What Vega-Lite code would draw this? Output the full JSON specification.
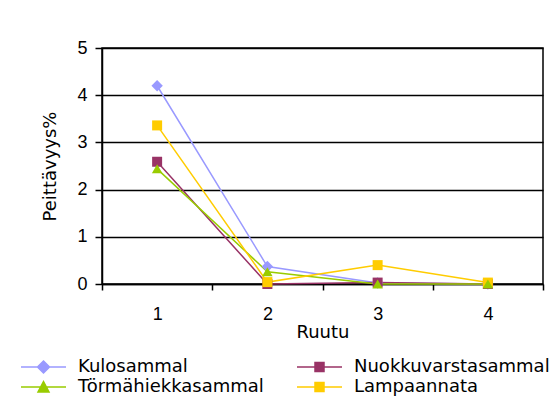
{
  "$schema": "https://vega.github.io/schema/vega-lite/v6.json",
  "width": 441,
  "height": 236,
  "autosize": {"type": "none"},
  "padding": {"left": 102, "top": 48, "right": 11, "bottom": 122},
  "background": "white",
  "config": {"view": {"stroke": "black", "strokeWidth": 1.5}, "font": "DejaVu Sans"},
  "data": {"values": [
    {"Laji": "Kulosammal", "Ruutu": 1, "Peittavyys": 4.2},
    {"Laji": "Kulosammal", "Ruutu": 2, "Peittavyys": 0.37},
    {"Laji": "Kulosammal", "Ruutu": 3, "Peittavyys": 0.02},
    {"Laji": "Kulosammal", "Ruutu": 4, "Peittavyys": 0.0},
    {"Laji": "Nuokkuvarstasammal", "Ruutu": 1, "Peittavyys": 2.59},
    {"Laji": "Nuokkuvarstasammal", "Ruutu": 2, "Peittavyys": 0.0},
    {"Laji": "Nuokkuvarstasammal", "Ruutu": 3, "Peittavyys": 0.03},
    {"Laji": "Nuokkuvarstasammal", "Ruutu": 4, "Peittavyys": 0.0},
    {"Laji": "Törmähiekkasammal", "Ruutu": 1, "Peittavyys": 2.44},
    {"Laji": "Törmähiekkasammal", "Ruutu": 2, "Peittavyys": 0.26},
    {"Laji": "Törmähiekkasammal", "Ruutu": 3, "Peittavyys": 0.0},
    {"Laji": "Törmähiekkasammal", "Ruutu": 4, "Peittavyys": 0.0},
    {"Laji": "Lampaannata", "Ruutu": 1, "Peittavyys": 3.36},
    {"Laji": "Lampaannata", "Ruutu": 2, "Peittavyys": 0.04},
    {"Laji": "Lampaannata", "Ruutu": 3, "Peittavyys": 0.4},
    {"Laji": "Lampaannata", "Ruutu": 4, "Peittavyys": 0.03}
  ]},
  "encoding": {
    "x": {
      "field": "Ruutu", "type": "ordinal", "bandPosition": 0.5,
      "scale": {"type": "band", "paddingInner": 0, "paddingOuter": 0},
      "axis": {
        "title": "Ruutu", "labelAngle": 0, "tickBand": "extent", "grid": false,
        "tickSize": 6, "tickColor": "black", "tickWidth": 1.5,
        "domainColor": "black", "domainWidth": 1.5,
        "labelFont": "Liberation Sans", "labelFontSize": 18, "labelColor": "black", "labelPadding": 15,
        "titleFont": "DejaVu Sans", "titleFontSize": 18, "titleFontWeight": "normal", "titleColor": "black", "titlePadding": 0
      }
    },
    "y": {
      "field": "Peittavyys", "type": "quantitative",
      "scale": {"domain": [0, 5], "nice": false},
      "axis": {
        "title": "Peittävyys%", "values": [0, 1, 2, 3, 4, 5], "format": "d",
        "grid": true, "gridColor": "black", "gridWidth": 1.5, "gridOpacity": 1,
        "tickSize": 7, "tickColor": "black", "tickWidth": 1.5,
        "domainColor": "black", "domainWidth": 1.5,
        "labelFont": "Liberation Sans", "labelFontSize": 18, "labelColor": "black", "labelPadding": 8,
        "titleFont": "DejaVu Sans", "titleFontSize": 18, "titleFontWeight": "normal", "titleColor": "black", "titlePadding": 17
      }
    },
    "color": {
      "field": "Laji", "type": "nominal",
      "scale": {
        "domain": ["Kulosammal", "Nuokkuvarstasammal", "Törmähiekkasammal", "Lampaannata"],
        "range": ["#9999FF", "#993366", "#99CC00", "#FFCC00"]
      },
      "legend": {
        "title": null, "orient": "none", "legendX": -82, "legendY": 308, "direction": "horizontal",
        "columns": 2, "columnPadding": 30, "rowPadding": 0, "padding": 0,
        "labelFont": "DejaVu Sans", "labelFontSize": 18, "labelColor": "black", "labelLimit": 0, "labelOffset": 36,
        "symbolSize": 400, "symbolStrokeWidth": 1.5,
        "encode": {
          "symbols": {
            "update": {
              "shape": {"signal": "datum.value === 'Kulosammal' ? 'M-1,0H3.5M1.25,-0.6L1.85,0L1.25,0.6L0.65,0Z' : datum.value === 'Törmähiekkasammal' ? 'M-1,0H3.5M1.25,-0.55L1.8,0.5L0.7,0.5Z' : 'M-1,0H3.5M0.8,-0.45H1.7V0.45H0.8Z'"},
              "fill": {"scale": "color", "field": "value"},
              "stroke": {"scale": "color", "field": "value"},
              "opacity": {"value": 1}
            }
          }
        }
      }
    }
  },
  "layer": [
    {"mark": {"type": "line", "strokeWidth": 1.5}},
    {
      "transform": [{"filter": "datum.Laji === 'Kulosammal'"}],
      "mark": {"type": "point", "filled": true, "opacity": 1, "size": 130, "shape": "diamond"}
    },
    {
      "transform": [{"filter": "datum.Laji === 'Nuokkuvarstasammal' || datum.Laji === 'Lampaannata'"}],
      "mark": {"type": "point", "filled": true, "opacity": 1, "size": 100, "shape": "square"}
    },
    {
      "transform": [{"filter": "datum.Laji === 'Törmähiekkasammal'"}],
      "mark": {"type": "point", "filled": true, "opacity": 1, "size": 110, "shape": "triangle-up"}
    }
  ]
}
